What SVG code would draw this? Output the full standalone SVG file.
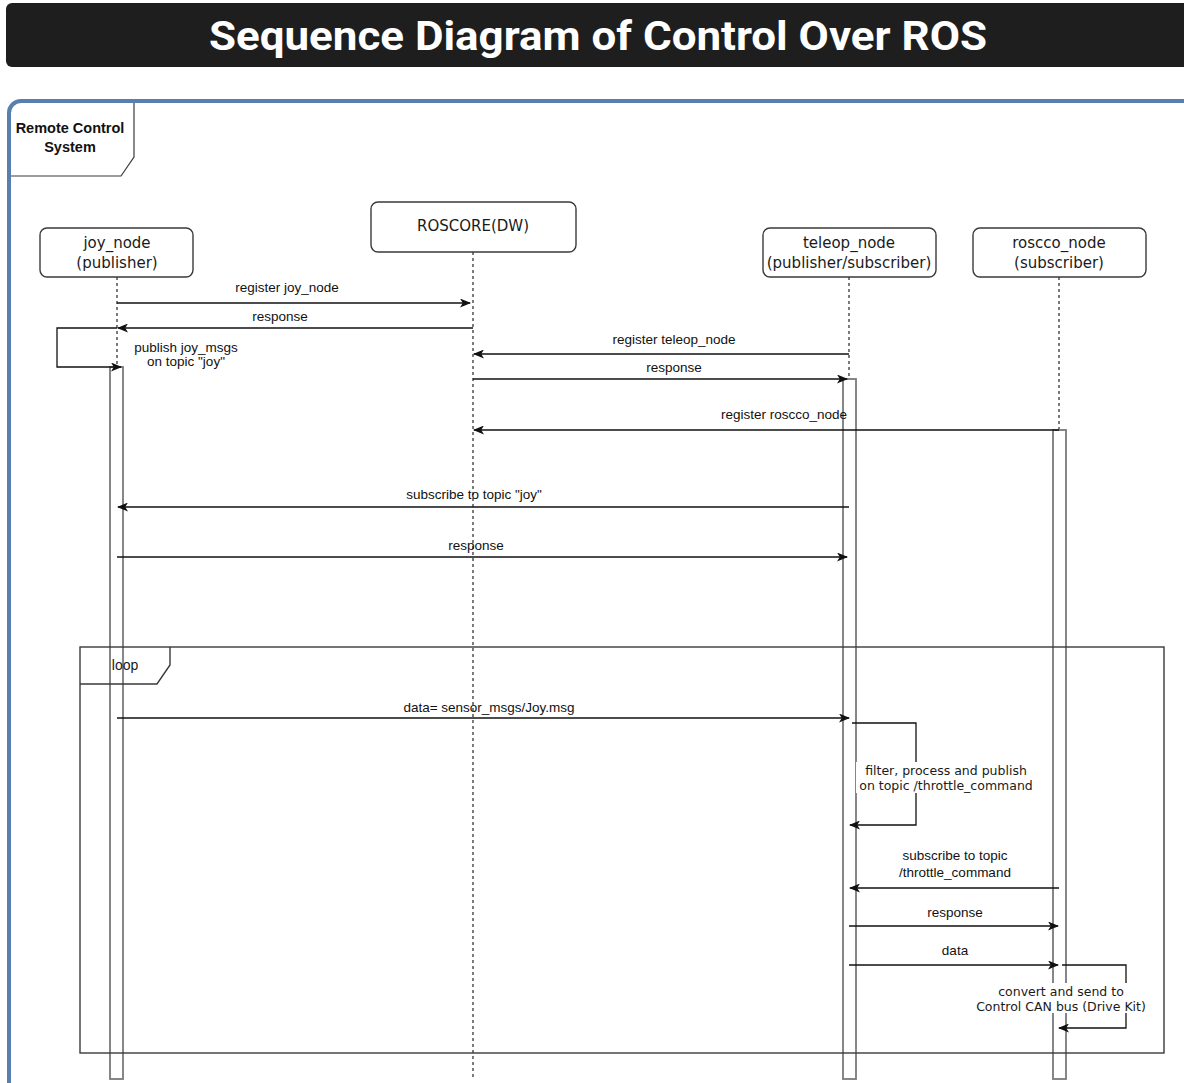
<svg xmlns="http://www.w3.org/2000/svg" width="1184" height="1083" viewBox="0 0 1184 1083">
  <style>
    .box { fill: #ffffff; stroke: #3a3a3a; stroke-width: 1.4; }
    .node-text { font-family: "DejaVu Sans", sans-serif; font-size: 15px; fill: #1a1a1a; text-anchor: middle; }
    .life { stroke: #111; stroke-width: 1.1; stroke-dasharray: 3 3; fill: none; }
    .bar { fill: #ffffff; stroke: #7a7a7a; stroke-width: 1.8; }
    .msg { stroke: #111; stroke-width: 1.3; fill: none; }
    .lbl { font-family: "Liberation Sans", Arial, sans-serif; font-size: 13.5px; fill: #111; text-anchor: middle; }
    .lbl2 { font-family: "DejaVu Sans", sans-serif; font-size: 12.5px; fill: #1a1a1a; text-anchor: middle; }
    .frame { fill: none; stroke: #3a3a3a; stroke-width: 1.4; }
  </style>
  <defs>
    <marker id="arrow" viewBox="0 0 11 9" refX="10" refY="4.5" markerWidth="11" markerHeight="9" markerUnits="userSpaceOnUse" orient="auto">
      <path d="M0,0 L11,4.5 L0,9 L2.8,4.5 z" fill="#111"/>
    </marker>
  </defs>

  <rect width="1184" height="1083" fill="#ffffff"/>

  <!-- title banner -->
  <g id="title">
    <rect x="6" y="3" width="1190" height="64" rx="6" fill="#1e1e1e"/>
    <text x="598" y="50" font-family="Roboto, Inter, sans-serif" font-weight="700" font-size="41" fill="#ffffff" text-anchor="middle" textLength="778" lengthAdjust="spacingAndGlyphs">Sequence Diagram of Control Over ROS</text>
  </g>

  <!-- outer system frame -->
  <g id="system-frame">
    <rect x="9" y="101" width="1200" height="1010" rx="12" fill="none" stroke="#5580b0" stroke-width="4"/>
    <path d="M11,176 L121,176 L134,157 L134,103" fill="none" stroke="#3a3a3a" stroke-width="1.2"/>
    <text x="70" y="133" font-family="'Liberation Sans', Arial, sans-serif" font-weight="700" font-size="14.5" fill="#111" text-anchor="middle">Remote Control</text>
    <text x="70" y="152" font-family="'Liberation Sans', Arial, sans-serif" font-weight="700" font-size="14.5" fill="#111" text-anchor="middle">System</text>
  </g>

  <!-- lifelines -->
  <g id="lifelines">
    <line class="life" x1="117" y1="277" x2="117" y2="1080"/>
    <line class="life" x1="473" y1="252" x2="473" y2="1080"/>
    <line class="life" x1="849" y1="277" x2="849" y2="1080"/>
    <line class="life" x1="1059" y1="277" x2="1059" y2="1080"/>
  </g>

  <!-- activation bars -->
  <g id="activations">
    <rect class="bar" x="110" y="367" width="13" height="712"/>
    <rect class="bar" x="843" y="379" width="13" height="700"/>
    <rect class="bar" x="1053" y="430" width="13" height="649"/>
  </g>

  <!-- participants -->
  <g id="joy_node">
    <rect class="box" x="40" y="228" width="153" height="49" rx="7"/>
    <text class="node-text" x="117" y="248">joy_node</text>
    <text class="node-text" x="117" y="268">(publisher)</text>
  </g>
  <g id="roscore">
    <rect class="box" x="371" y="202" width="205" height="50" rx="7"/>
    <text class="node-text" x="473" y="231">ROSCORE(DW)</text>
  </g>
  <g id="teleop_node">
    <rect class="box" x="763" y="228" width="173" height="49" rx="7"/>
    <text class="node-text" x="849" y="248">teleop_node</text>
    <text class="node-text" x="849" y="268">(publisher/subscriber)</text>
  </g>
  <g id="roscco_node">
    <rect class="box" x="973" y="228" width="173" height="49" rx="7"/>
    <text class="node-text" x="1059" y="248">roscco_node</text>
    <text class="node-text" x="1059" y="268">(subscriber)</text>
  </g>

  <!-- loop fragment -->
  <g id="loop">
    <rect class="frame" x="80" y="647" width="1084" height="406"/>
    <path class="frame" d="M80,684 L157,684 L170,665 L170,647"/>
    <text x="125" y="670" font-family="'Liberation Sans', Arial, sans-serif" font-size="14" fill="#1a1a1a" text-anchor="middle">loop</text>
  </g>

  <!-- messages -->
  <g id="connectors">
    <line class="msg" x1="117" y1="303" x2="470" y2="303" marker-end="url(#arrow)"/>
    <text class="lbl" x="287" y="292">register joy_node</text>

    <line class="msg" x1="473" y1="328" x2="118" y2="328" marker-end="url(#arrow)"/>
    <text class="lbl" x="280" y="321">response</text>

    <path class="msg" d="M117,328 L57,328 L57,367 L121,367" marker-end="url(#arrow)"/>
    <text class="lbl" x="186" y="352">publish joy_msgs</text>
    <text class="lbl" x="186" y="366">on topic "joy"</text>

    <line class="msg" x1="849" y1="354" x2="474" y2="354" marker-end="url(#arrow)"/>
    <text class="lbl" x="674" y="344">register teleop_node</text>

    <line class="msg" x1="473" y1="379" x2="847" y2="379" marker-end="url(#arrow)"/>
    <text class="lbl" x="674" y="372">response</text>

    <line class="msg" x1="1059" y1="430" x2="474" y2="430" marker-end="url(#arrow)"/>
    <text class="lbl" x="784" y="419">register roscco_node</text>

    <line class="msg" x1="849" y1="507" x2="118" y2="507" marker-end="url(#arrow)"/>
    <text class="lbl" x="474" y="499">subscribe to topic "joy"</text>

    <line class="msg" x1="117" y1="557" x2="847" y2="557" marker-end="url(#arrow)"/>
    <text class="lbl" x="476" y="550">response</text>

    <line class="msg" x1="117" y1="718" x2="849" y2="718" marker-end="url(#arrow)"/>
    <text class="lbl" x="489" y="712">data= sensor_msgs/Joy.msg</text>

    <path class="msg" d="M852,723 L916,723 L916,825 L850,825" marker-end="url(#arrow)"/>
    <rect x="856" y="762" width="180" height="31" fill="#ffffff"/>
    <text class="lbl2" x="946" y="775">filter, process and publish</text>
    <text class="lbl2" x="946" y="790">on topic /throttle_command</text>

    <line class="msg" x1="1059" y1="888" x2="850" y2="888" marker-end="url(#arrow)"/>
    <text class="lbl" x="955" y="860">subscribe to topic</text>
    <text class="lbl" x="955" y="877">/throttle_command</text>

    <line class="msg" x1="849" y1="926" x2="1058" y2="926" marker-end="url(#arrow)"/>
    <text class="lbl" x="955" y="917">response</text>

    <line class="msg" x1="849" y1="965" x2="1058" y2="965" marker-end="url(#arrow)"/>
    <text class="lbl" x="955" y="955">data</text>

    <path class="msg" d="M1062,965 L1126,965 L1126,1028 L1059,1028" marker-end="url(#arrow)"/>
    <rect x="972" y="983" width="178" height="30" fill="#ffffff"/>
    <text class="lbl2" x="1061" y="996">convert and send to</text>
    <text class="lbl2" x="1061" y="1011">Control CAN bus (Drive Kit)</text>
  </g>
</svg>
